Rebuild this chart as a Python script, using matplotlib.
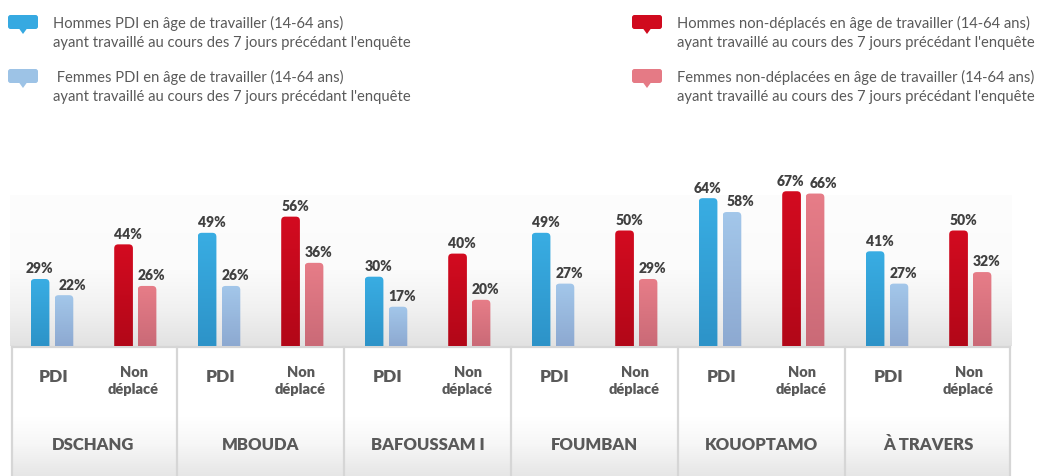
import numpy as np
import matplotlib
matplotlib.use("Agg")
import matplotlib.pyplot as plt
from matplotlib.patches import FancyBboxPatch, Polygon
from matplotlib.colors import LinearSegmentedColormap

# ---------------- data ----------------
cities = ["DSCHANG", "MBOUDA", "BAFOUSSAM I", "FOUMBAN", "KOUOPTAMO", "À TRAVERS"]
pdi_hommes = [29, 49, 30, 49, 64, 41]
pdi_femmes = [22, 26, 17, 27, 58, 27]
nd_hommes = [44, 56, 40, 50, 67, 50]
nd_femmes = [26, 36, 20, 29, 66, 32]
sub_labels = ["PDI", "Non\ndéplacé"]
legend_labels = [
    "Hommes PDI en âge de travailler (14-64 ans)\nayant travaillé au cours des 7 jours précédant l'enquête",
    " Femmes PDI en âge de travailler (14-64 ans)\nayant travaillé au cours des 7 jours précédant l'enquête",
    "Hommes non-déplacés en âge de travailler (14-64 ans)\nayant travaillé au cours des 7 jours précédant l'enquête",
    "Femmes non-déplacées en âge de travailler (14-64 ans)\nayant travaillé au cours des 7 jours précédant l'enquête",
]

grad_colors = [("#39ADE3", "#2D93C8"), ("#A3C7EA", "#8DA9D1"),
               ("#D30B20", "#B20718"), ("#E77D88", "#CA6A77")]
legend_colors = ["#36A9E1", "#9DC3E6", "#D00A1E", "#E57A85"]
text_gray = "#595959"
val_gray = "#404040"

plt.rcParams['font.family'] = ['Lato', 'DejaVu Sans']
BOLD = "heavy"

W, H = 1038, 477
fig = plt.figure(figsize=(W / 100, H / 100), dpi=100)

px_per_pct = 2.31
base_px = 347
ax_left, ax_right = 10, 1012
ax_bottom_px = 477
ax_top_px = base_px - 100 * px_per_pct
ymin = -(ax_bottom_px - base_px) / px_per_pct
ax = fig.add_axes([ax_left / W, 0, (ax_right - ax_left) / W, (ax_bottom_px - ax_top_px) / H])
ax.set_xlim(0, 6)
ax.set_ylim(ymin, 100)
ax.axis("off")

px_per_unit = (ax_right - ax_left) / 6.0

bg_top = (base_px - 196) / px_per_pct
bg = np.linspace(0, 1, 256).reshape(-1, 1)
bg_cmap = LinearSegmentedColormap.from_list(
    "bg", [(0, "#E2E2E2"), (0.25, "#F1F1F1"), (0.5, "#FBFBFB"), (1, "#FDFDFD")])
ax.imshow(bg, cmap=bg_cmap, extent=(-0.01, 6.0, 0, bg_top), origin="lower",
          aspect="auto", zorder=0)

tb = np.linspace(0, 1, 256).reshape(-1, 1)
tb_cmap = LinearSegmentedColormap.from_list(
    "tb", [(0, "#E6E6E6"), (0.25, "#F7F7F7"), (0.45, "#FFFFFF"), (1, "#FFFFFF")])
ax.imshow(tb, cmap=tb_cmap, extent=(0.01, 6.0 - 0.01, ymin, -0.6), origin="lower",
          aspect="auto", zorder=0)

line_col = "#D6D6D6"
ax.plot([0.01, 5.99], [-0.6, -0.6], color=line_col, lw=1.6, zorder=1)
for g in range(7):
    xg = min(max(g, 0.012), 5.988)
    ax.plot([xg, xg], [-0.6, ymin], color=line_col, lw=1.6, zorder=1)

offsets = [0.18, 0.323, 0.68, 0.8205]
bw = 0.112
series = [pdi_hommes, pdi_femmes, nd_hommes, nd_femmes]
partner = [1, 0, 3, 2]
x = np.arange(len(cities))
r_px = 4.0
px = 1.0 / px_per_unit
for s, (vals, off, (ctop, cbot)) in enumerate(zip(series, offsets, grad_colors)):
    bars = ax.bar(x + off, vals, width=bw, color="none", edgecolor="none", zorder=2)
    cmap = LinearSegmentedColormap.from_list("c%d" % s, [cbot, ctop])
    for i, (rect, v) in enumerate(zip(bars, vals)):
        x0 = rect.get_x()
        w = rect.get_width()
        h = rect.get_height()
        rx = r_px / px_per_unit
        ry = r_px / px_per_pct
        clip = FancyBboxPatch((x0, -5), w, h + 5,
                              boxstyle="round,pad=0,rounding_size=%f" % rx,
                              mutation_aspect=ry / rx,
                              transform=ax.transData, facecolor="none", edgecolor="none")
        ax.add_patch(clip)
        grad = np.linspace(0, 1, 128).reshape(-1, 1)
        im = ax.imshow(grad, cmap=cmap, extent=(x0, x0 + w, 0, h), origin="lower",
                       aspect="auto", zorder=2)
        im.set_clip_path(clip)
        other = series[partner[s]][i]
        close = abs(other - v) < 8
        if close and s in (0, 2):
            tx, ha = x0 + w / 2 - 1 * px, "center"
        elif close:
            tx, ha = x0 + 4 * px, "left"
        else:
            tx, ha = x0, "left"
        ax.text(tx, h + 2.0, "%d%%" % v, ha=ha, va="bottom",
                fontsize=10, fontweight=BOLD, color=val_gray, zorder=3)

y_pdi = -(377 - base_px) / px_per_pct
y_nd = -(381 - base_px) / px_per_pct
y_city = -(445 - base_px) / px_per_pct
for i, c in enumerate(cities):
    ax.text(i + 0.26, y_pdi, sub_labels[0], ha="center", va="center",
            fontsize=12.5, fontweight=BOLD, color=text_gray)
    ax.text(i + 0.74, y_nd, sub_labels[1], ha="center", va="center",
            fontsize=10.5, fontweight=BOLD, color=text_gray, linespacing=1.3)
    ax.text(i + 0.5, y_city, c, ha="center", va="center",
            fontsize=12, fontweight=BOLD, color=text_gray)

lax = fig.add_axes([0, 0, 1, 1])
lax.set_xlim(0, W)
lax.set_ylim(H, 0)
lax.axis("off")
legend_pos = [(8, 16), (8, 70), (632, 16), (632, 70)]
for (lx, ly), col, lab in zip(legend_pos, legend_colors, legend_labels):
    lax.add_patch(FancyBboxPatch((lx, ly), 30, 14,
                                 boxstyle="round,pad=0,rounding_size=2.5",
                                 facecolor=col, edgecolor="none"))
    lax.add_patch(Polygon([(lx + 11, ly + 13.5), (lx + 19, ly + 13.5), (lx + 15, ly + 19)],
                          closed=True, facecolor=col, edgecolor="none"))
    lax.text(lx + 45, ly + 17, lab, ha="left", va="center", fontsize=10.6,
             color=text_gray, linespacing=1.38)

fig.savefig("out.png", dpi=100, facecolor="white")
